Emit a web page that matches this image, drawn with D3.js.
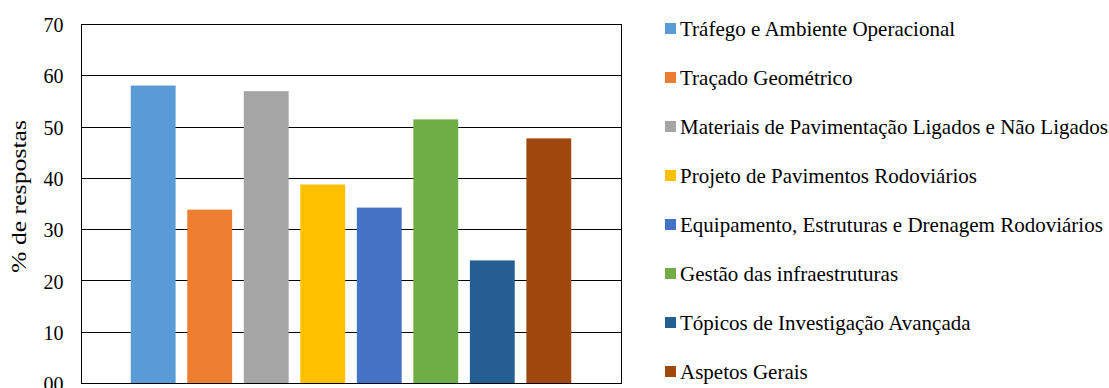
<!DOCTYPE html>
<html>
<head>
<meta charset="utf-8">
<script src="https://cdn.jsdelivr.net/npm/d3@7"></script>
<style>
  html, body { margin: 0; padding: 0; background: #fff; }
  svg { display: block; }
</style>
</head>
<body>
<svg id="fig" width="1109" height="388"></svg>
<script>
const categories = [
  "Tráfego e Ambiente Operacional",
  "Traçado Geométrico",
  "Materiais de Pavimentação Ligados e Não Ligados",
  "Projeto de Pavimentos Rodoviários",
  "Equipamento, Estruturas e Drenagem Rodoviários",
  "Gestão das infraestruturas",
  "Tópicos de Investigação Avançada",
  "Aspetos Gerais"
];
const values = [58.0, 33.8, 56.9, 38.7, 34.2, 51.4, 23.9, 47.7];
const colors = ["#5B9BD5", "#ED7D31", "#A5A5A5", "#FFC000", "#4472C4", "#70AD47", "#255E91", "#9E480E"];
const yTicks = [0, 10, 20, 30, 40, 50, 60, 70];
const yTickLabels = ["00", "10", "20", "30", "40", "50", "60", "70"];
const yTitle = "% de respostas";

const FONT = "Liberation Serif";
const svg = d3.select("#fig").attr("font-family", FONT).style("font-family", "'Liberation Serif'");
const pLeft = 81, pRight = 621, pTop = 24, pBottom = 383;

const y = d3.scaleLinear().domain([0, 70]).range([pBottom, pTop]);
const x = d3.scaleBand().domain(categories).range([pLeft, pRight])
  .paddingInner(0.206).paddingOuter(0.88);

// gridlines
svg.append("g").selectAll("line").data(yTicks).join("line")
  .attr("x1", pLeft).attr("x2", pRight)
  .attr("y1", d => Math.round(y(d)) + 0.5).attr("y2", d => Math.round(y(d)) + 0.5)
  .attr("stroke", "#000").attr("stroke-width", 1);

// bars
svg.append("g").selectAll("rect").data(values).join("rect")
  .attr("x", (d, i) => x(categories[i]))
  .attr("width", x.bandwidth())
  .attr("y", d => y(d))
  .attr("height", d => y(0) - y(d))
  .attr("fill", (d, i) => colors[i]);

// plot border
svg.append("rect")
  .attr("x", pLeft + 0.5).attr("y", Math.round(pTop) + 0.5)
  .attr("width", pRight - pLeft).attr("height", Math.round(pBottom) - Math.round(pTop))
  .attr("fill", "none").attr("stroke", "#000").attr("stroke-width", 1);

// y axis labels
const yAxis = d3.axisLeft(y).tickValues(yTicks).tickSize(0).tickPadding(0)
  .tickFormat((d, i) => yTickLabels[i]);
const gy = svg.append("g").attr("transform", `translate(63.5,0)`).call(yAxis)
  .attr("font-family", FONT).attr("font-size", 20);
gy.select(".domain").remove();
gy.selectAll("text")
  .attr("font-family", FONT).style("font-family", "'Liberation Serif'")
  .attr("font-size", 20).attr("fill", "#000").attr("dy", "0.38em");

// y title
svg.append("text")
  .attr("transform", "translate(26,196.5) rotate(-90)")
  .attr("text-anchor", "middle")
  .attr("font-family", FONT).style("font-family", "'Liberation Serif'")
  .attr("font-size", 20)
  .attr("textLength", 153).attr("lengthAdjust", "spacingAndGlyphs")
  .attr("fill", "#000")
  .text(yTitle);

// legend
const lg = svg.append("g").selectAll("g").data(categories).join("g")
  .attr("transform", (d, i) => `translate(665,${28.5 + i * 49})`);
lg.append("rect").attr("x", 0).attr("y", -5.5).attr("width", 11).attr("height", 11)
  .attr("fill", (d, i) => colors[i]);
lg.append("text").attr("x", 15).attr("y", 7)
  .attr("font-family", FONT).style("font-family", "'Liberation Serif'")
  .attr("font-size", 21).attr("fill", "#000").text(d => d);
</script>
</body>
</html>
